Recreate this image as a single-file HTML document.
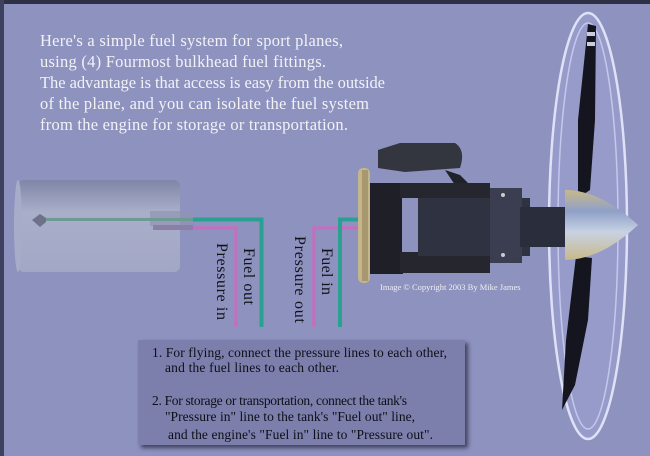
<!DOCTYPE html>
<html><head><meta charset="utf-8"><style>
html,body{margin:0;padding:0;background:#8e92bf;}
svg{display:block}
</style></head><body>
<svg width="650" height="456" viewBox="0 0 650 456" xmlns="http://www.w3.org/2000/svg">
<defs>
<linearGradient id="tank" x1="0" y1="0" x2="0" y2="1">
<stop offset="0" stop-color="#7f86a6"/><stop offset="0.35" stop-color="#a9aec9"/><stop offset="1" stop-color="#a2a7c6"/></linearGradient>
<linearGradient id="cone" x1="0" y1="0" x2="0" y2="1">
<stop offset="0" stop-color="#c8b98a"/><stop offset="0.3" stop-color="#8fa0c8"/><stop offset="0.6" stop-color="#c8d2e2"/><stop offset="1" stop-color="#c8b98a"/></linearGradient>
<filter id="sh" x="-5%" y="-5%" width="115%" height="120%"><feDropShadow dx="3" dy="3" stdDeviation="2" flood-color="#2a2c45" flood-opacity="0.8"/></filter>
</defs>
<rect width="650" height="456" fill="#8e92bf"/>
<rect width="650" height="4" fill="#2e3045"/>
<rect width="4" height="456" fill="#3e4060"/>
<g font-family="Liberation Serif, serif" font-size="16.5" fill="#f2f2f6">
<text x="40" y="46" textLength="303">Here's a simple fuel system for sport planes,</text>
<text x="40" y="67" textLength="286">using (4) Fourmost bulkhead fuel fittings.</text>
<text x="40" y="88" textLength="345">The advantage is that access is easy from the outside</text>
<text x="40" y="109" textLength="329">of the plane, and you can isolate the fuel system</text>
<text x="40" y="130" textLength="308">from the engine for storage or transportation.</text>
</g>
<!-- propeller disc -->
<ellipse cx="588" cy="226" rx="39" ry="213" fill="#a0a6d6" fill-opacity="0.45" stroke="#dfe2f6" stroke-width="2.5"/>
<ellipse cx="588" cy="226" rx="30" ry="203" fill="none" stroke="#c4c8ec" stroke-width="1.5"/>
<path d="M588 24 L596 26 L595 120 L590 190 L578 198 L578 120 Z" fill="#14151f"/>
<rect x="587" y="32" width="8" height="4" fill="#c8cce0"/><rect x="587" y="42" width="8" height="4" fill="#c8cce0"/>
<path d="M576 256 L592 258 L588 320 L575 385 L562 410 L566 340 Z" fill="#14151f"/>
<!-- engine -->
<path d="M378 150 L400 143 L455 143 Q466 150 460 168 L405 172 L378 168 Z" fill="#33353f"/>
<path d="M445 170 L460 175 L470 185 L455 185 Z" fill="#202229"/>
<rect x="358" y="168" width="12" height="115" rx="5" fill="#c5b58a"/>
<rect x="362" y="170" width="6" height="111" fill="#a89870"/>
<rect x="370" y="183" width="33" height="91" fill="#1f2027"/>
<rect x="400" y="183" width="90" height="15" fill="#25262e"/>
<rect x="400" y="252" width="90" height="21" fill="#25262e"/>
<rect x="402" y="198" width="18" height="54" fill="#8e92bf"/>
<rect x="418" y="198" width="112" height="58" fill="#2f3240"/>
<rect x="490" y="188" width="32" height="75" fill="#3a3e50"/>
<circle cx="503" cy="195" r="2" fill="#ccc"/><circle cx="503" cy="255" r="2" fill="#ccc"/>
<rect x="520" y="207" width="50" height="40" fill="#2a2d3c"/>
<path d="M565 190 Q600 190 638 225 Q600 260 565 260 Z" fill="url(#cone)"/>
<text x="380" y="290" font-family="Liberation Serif, serif" font-size="8.5" fill="#eeeef5">Image © Copyright 2003 By Mike James</text>
<!-- tank -->
<rect x="18" y="180" width="162" height="92" rx="6" fill="url(#tank)"/>
<ellipse cx="18" cy="226" rx="4" ry="46" fill="#a7acc8"/>
<rect x="150" y="211" width="42" height="15" fill="#8e94b4" opacity="0.7"/>
<rect x="153" y="225" width="40" height="5" fill="#8b7fa8"/>
<!-- lines -->
<polygon points="32,220 40,214 46,218 46,222 40,227" fill="#6d7288"/>
<rect x="46" y="218" width="150" height="3" fill="#6f9a94"/>
<path d="M193 219.5 H261.5 V327" fill="none" stroke="#2aa093" stroke-width="4"/>
<path d="M193 228 H236 V327" fill="none" stroke="#c36fc0" stroke-width="3.5"/>
<path d="M314 327 V228 H358" fill="none" stroke="#c36fc0" stroke-width="3.5"/>
<path d="M340 327 V219.5 H358" fill="none" stroke="#2aa093" stroke-width="4"/>
<!-- vertical labels -->
<g font-family="Liberation Serif, serif" font-size="16" fill="#11121a">
<text transform="translate(217,243) rotate(90)" textLength="77">Pressure in</text>
<text transform="translate(244,248) rotate(90)" textLength="57">Fuel out</text>
<text transform="translate(295,236) rotate(90)" textLength="87">Pressure out</text>
<text transform="translate(322,248) rotate(90)" textLength="47">Fuel in</text>
</g>
<!-- info box -->
<rect x="138" y="340" width="327" height="105" fill="#7b7eab" filter="url(#sh)"/>
<g font-family="Liberation Serif, serif" font-size="13.5" fill="#0e0f18">
<text x="152" y="357" textLength="295">1. For flying, connect the pressure lines to each other,</text>
<text x="165" y="372" textLength="174">and the fuel lines to each other.</text>
<text x="152" y="405" textLength="255">2. For storage or transportation, connect the tank's</text>
<text x="165" y="421" textLength="250">"Pressure in" line to the tank's "Fuel out" line,</text>
<text x="168" y="439" textLength="265">and the engine's "Fuel in" line to "Pressure out".</text>
</g>
</svg>
</body></html>
